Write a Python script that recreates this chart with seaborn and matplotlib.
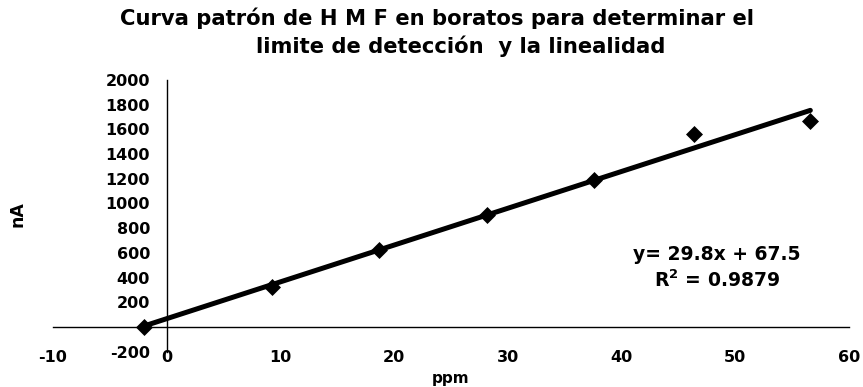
import matplotlib
matplotlib.use("Agg")
import matplotlib.pyplot as plt
import seaborn as sns
import numpy as np
import pandas as pd

# Calibration data: concentration (ppm) vs. current (nA)
ppm = [-2.0, 9.3, 18.7, 28.2, 37.6, 46.4, 56.6]
corriente = [0, 324, 623, 907, 1190, 1563, 1670]

# Linear trend reported on the chart
pendiente = 29.8
intercepto = 67.5
r2 = 0.9879

x_ticks = [-10, 0, 10, 20, 30, 40, 50, 60]
y_ticks = [-200, 0, 200, 400, 600, 800, 1000, 1200, 1400, 1600, 1800, 2000]

titulo_1 = "Curva patrón de H M F en boratos para determinar el"
titulo_2 = "limite de detección  y la linealidad"

sns.set_theme(style="white")
plt.rcParams["font.family"] = ["DejaVu Sans"]
plt.rcParams["axes.unicode_minus"] = False
for key in ("text.color", "axes.labelcolor", "xtick.color", "ytick.color"):
    plt.rcParams[key] = "black"

df = pd.DataFrame({"ppm": ppm, "nA": corriente})
x_fit = np.array([min(ppm), max(ppm)])
fit = pd.DataFrame({"ppm": x_fit, "nA": pendiente * x_fit + intercepto})

fig = plt.figure(figsize=(8.63, 3.87), dpi=100)
ax = fig.add_axes([53 / 863, 1 - 351.7 / 387, (849 - 53) / 863, (351.7 - 80) / 387])

sns.scatterplot(data=df, x="ppm", y="nA", marker="D", s=75, color="black",
                edgecolor="black", linewidth=0, ax=ax, zorder=3)
sns.lineplot(data=fit, x="ppm", y="nA", color="black", linewidth=3.6, ax=ax, zorder=4)

ax.set_xlim(-10, 60)
ax.set_ylim(-200, 2000)
ax.set_xticks(x_ticks)
ax.set_yticks(y_ticks)
ax.set_yticklabels(["" if v == 0 else str(v) for v in y_ticks])

for s in ("top", "right"):
    ax.spines[s].set_visible(False)
ax.spines["bottom"].set_position(("data", 0))
ax.spines["left"].set_position(("data", 0))
for s in ("bottom", "left"):
    ax.spines[s].set_color("black")
    ax.spines[s].set_linewidth(1.0)

ax.tick_params(axis="x", direction="inout", length=5, width=1, color="black",
               pad=14, labelsize=11.5)
ax.tick_params(axis="y", direction="out", length=3, width=1, color="black",
               pad=9, labelsize=11.5)
for lab in ax.get_xticklabels() + ax.get_yticklabels():
    lab.set_fontweight("bold")

ax.set_xlabel("")
ax.set_ylabel("")
fig.text(451 / 863, 1 - 378 / 387, "ppm", ha="center", va="center",
         fontsize=11, fontweight="bold")
fig.text(17 / 863, 1 - 214 / 387, "nA", ha="center", va="center",
         fontsize=12.5, fontweight="bold", rotation=90)

fig.text(437 / 863, 1 - 18 / 387, titulo_1, ha="center", va="center",
         fontsize=15.2, fontweight="bold")
fig.text(461 / 863, 1 - 46 / 387, titulo_2, ha="center", va="center",
         fontsize=15.2, fontweight="bold")

fig.text(717 / 863, 1 - 255 / 387, f"y= {pendiente}x + {intercepto}",
         ha="center", va="center", fontsize=13.5, fontweight="bold")
fig.text(717 / 863, 1 - 280 / 387, f"R$^\\mathbf{{2}}$ = {r2}",
         ha="center", va="center", fontsize=13.5, fontweight="bold")

fig.savefig("out.png", dpi=100)
